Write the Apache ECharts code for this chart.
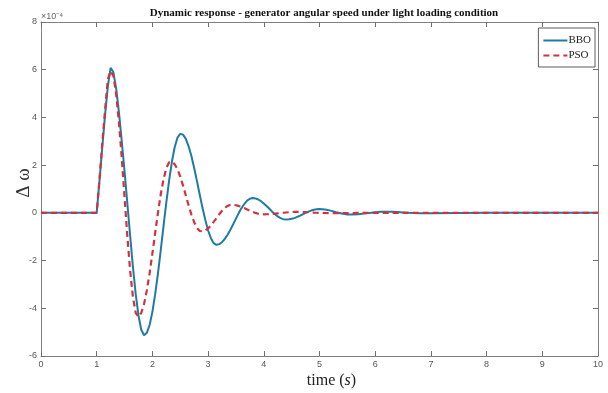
<!DOCTYPE html>
<html>
<head>
<meta charset="utf-8">
<script src="https://cdn.jsdelivr.net/npm/echarts@6/dist/echarts.min.js"></script>
<style>
  html, body { margin: 0; padding: 0; background: #fff; }
  #container { width: 608px; height: 393px; }
</style>
</head>
<body>
<div id="container"></div>
<script>
// time samples (s)
const times = [
  0, 1.00, 1.05, 1.10, 1.15, 1.20, 1.25, 1.30, 1.35, 1.40,
  1.45, 1.50, 1.55, 1.60, 1.65, 1.70, 1.75, 1.80, 1.85, 1.90,
  1.95, 2.00, 2.05, 2.10, 2.15, 2.20, 2.25, 2.30, 2.35, 2.40,
  2.45, 2.50, 2.55, 2.60, 2.65, 2.70, 2.75, 2.80, 2.85, 2.90,
  2.95, 3.00, 3.05, 3.10, 3.15, 3.20, 3.25, 3.30, 3.35, 3.40,
  3.45, 3.50, 3.55, 3.60, 3.65, 3.70, 3.75, 3.80, 3.85, 3.90,
  3.95, 4.00, 4.05, 4.10, 4.15, 4.20, 4.25, 4.30, 4.35, 4.40,
  4.45, 4.50, 4.55, 4.60, 4.65, 4.70, 4.75, 4.80, 4.85, 4.90,
  4.95, 5.00, 5.1, 5.2, 5.3, 5.4, 5.5, 5.6, 5.7, 5.8,
  5.9, 6.0, 6.1, 6.2, 6.3, 6.4, 6.5, 6.6, 6.7, 6.8,
  6.9, 7.0, 8, 9, 10
];
// delta omega, in units of 1e-4
const bbo = [
  0, 0, 1.35, 2.75, 4.1, 5.3, 6.08, 5.89, 5.2, 4.2,
  3.0, 1.75, 0.4, -0.95, -2.25, -3.4, -4.3, -4.9, -5.13, -5.03,
  -4.70, -4.15, -3.41, -2.54, -1.56, -0.55, 0.44, 1.35, 2.14, 2.75,
  3.15, 3.31, 3.28, 3.10, 2.79, 2.38, 1.88, 1.33, 0.76, 0.20,
  -0.30, -0.74, -1.06, -1.27, -1.34, -1.31, -1.23, -1.09, -0.92, -0.71,
  -0.48, -0.24, -0.01, 0.20, 0.37, 0.51, 0.59, 0.62, 0.605, 0.56,
  0.49, 0.395, 0.29, 0.17, 0.05, -0.055, -0.15, -0.22, -0.265, -0.28,
  -0.27, -0.25, -0.22, -0.17, -0.12, -0.06, 0.0, 0.05, 0.096, 0.13,
  0.15, 0.16, 0.14, 0.093, 0.029, -0.03, -0.065, -0.068, -0.055, -0.031,
  -0.003, 0.024, 0.043, 0.05, 0.046, 0.035, 0.019, 0.003, -0.011, -0.019,
  -0.018, -0.012, 0, 0, 0
];
const pso = [
  0, 0, 1.4, 2.9, 4.3, 5.6, 5.95, 5.74, 4.97, 3.78,
  2.30, 0.65, -0.97, -2.41, -3.52, -4.19, -4.35, -4.19, -3.82, -3.25,
  -2.53, -1.70, -0.84, 0.01, 0.78, 1.41, 1.87, 2.12, 2.15, 2.04,
  1.83, 1.52, 1.14, 0.73, 0.32, -0.07, -0.39, -0.63, -0.76, -0.776,
  -0.73, -0.65, -0.53, -0.38, -0.22, -0.06, 0.09, 0.21, 0.29, 0.336,
  0.337, 0.32, 0.29, 0.25, 0.20, 0.145, 0.09, 0.04, -0.003, -0.036,
  -0.055, -0.06, -0.058, -0.052, -0.044, -0.034, -0.021, -0.009, 0.004, 0.016,
  0.026, 0.034, 0.038, 0.04, 0.039, 0.036, 0.031, 0.025, 0.018, 0.011,
  0.005, 0.0, -0.006, -0.01, -0.012, -0.012, -0.01, -0.007, -0.004, -0.001,
  0.001, 0.002, 0.003, 0.003, 0.002, 0.001, 0, 0, 0, 0,
  0, 0, 0, 0, 0
];
const seriesNames = ['BBO', 'PSO'];

let dom = document.getElementById("container");
let myChart = echarts.init(dom, null, { renderer: 'canvas' });

const axisGray = '#808080';
const labelStyle = { color: '#555', fontSize: 9, fontFamily: 'Liberation Sans' };

let option = {
    animation: false,
    backgroundColor: '#fff',
    title: {
        text: 'Dynamic response - generator angular speed under light loading condition',
        left: 319,
        textAlign: 'center',
        top: 3,
        textStyle: {
            fontFamily: 'Liberation Serif',
            fontWeight: 'bold',
            fontSize: 11,
            color: '#111'
        }
    },
    grid: { left: 41, right: 10, top: 22, bottom: 37, containLabel: false, outerBoundsMode: 'none' },
    legend: {
        orient: 'vertical',
        right: 13,
        top: 28,
        itemWidth: 24,
        itemHeight: 10,
        itemGap: 4,
        padding: [7, 4, 6, 4],
        borderColor: '#333',
        borderWidth: 0.8,
        backgroundColor: '#fff',
        itemStyle: { opacity: 0 },
        textStyle: { fontFamily: 'Liberation Serif', fontSize: 11, color: '#222', padding: [0, 0, 0, -4] },
        data: seriesNames
    },
    xAxis: [{
        type: 'value',
        min: 0, max: 10, interval: 1,
        name: '{n|time (}{i|s}{n|)}',
        nameLocation: 'middle',
        nameGap: 17,
        nameMoveOverlap: false,
        nameTextStyle: {
            padding: [0, 0, 0, 24],
            rich: {
                n: { fontFamily: 'Liberation Serif', fontSize: 16, color: '#222' },
                i: { fontFamily: 'Liberation Serif', fontSize: 16, fontStyle: 'italic', color: '#222' }
            }
        },
        axisLine: { onZero: false, lineStyle: { color: axisGray } },
        axisTick: { inside: true, length: 5, lineStyle: { color: '#707070' } },
        axisLabel: Object.assign({ margin: 4 }, labelStyle),
        splitLine: { show: false }
    }, {
        type: 'value', position: 'top',
        min: 0, max: 10, interval: 1,
        axisLine: { onZero: false, lineStyle: { color: axisGray } },
        axisTick: { inside: true, length: 5, lineStyle: { color: '#707070' } },
        axisLabel: { show: false },
        splitLine: { show: false }
    }],
    yAxis: [{
        type: 'value',
        min: -6, max: 8, interval: 2,
        name: 'Δ ω',
        nameLocation: 'middle',
        nameRotate: 90,
        nameGap: 7,
        nameMoveOverlap: false,
        nameTextStyle: { fontFamily: 'Liberation Serif', fontSize: 19, color: '#333', padding: [0, 0, 0, 12] },
        axisLine: { onZero: false, lineStyle: { color: axisGray } },
        axisTick: { inside: true, length: 5, lineStyle: { color: '#707070' } },
        axisLabel: Object.assign({ margin: 4 }, labelStyle),
        splitLine: { show: false }
    }, {
        type: 'value', position: 'right',
        min: -6, max: 8, interval: 2,
        axisLine: { show: true, onZero: false, lineStyle: { color: axisGray } },
        axisTick: { show: true, inside: true, length: 5, lineStyle: { color: '#707070' } },
        axisLabel: { show: false },
        splitLine: { show: false }
    }],
    graphic: [{
        type: 'text',
        left: 41,
        top: 12,
        style: { text: '×10⁻⁴', fill: '#666', fontSize: 9, fontFamily: 'Liberation Sans' }
    }],
    series: [{
        name: seriesNames[0],
        type: 'line',
        showSymbol: false,
        symbol: 'none',
        color: '#1f7aa6',
        lineStyle: { width: 2, color: '#1f7aa6' },
        data: times.map((t, i) => [t, bbo[i]]),
        z: 2
    }, {
        name: seriesNames[1],
        type: 'line',
        showSymbol: false,
        symbol: 'none',
        color: '#d2323c',
        lineStyle: { width: 2.2, type: [6, 4], color: '#d2323c' },
        data: times.map((t, i) => [t, pso[i]]),
        z: 3
    }]
};

myChart.setOption(option);
</script>
</body>
</html>
